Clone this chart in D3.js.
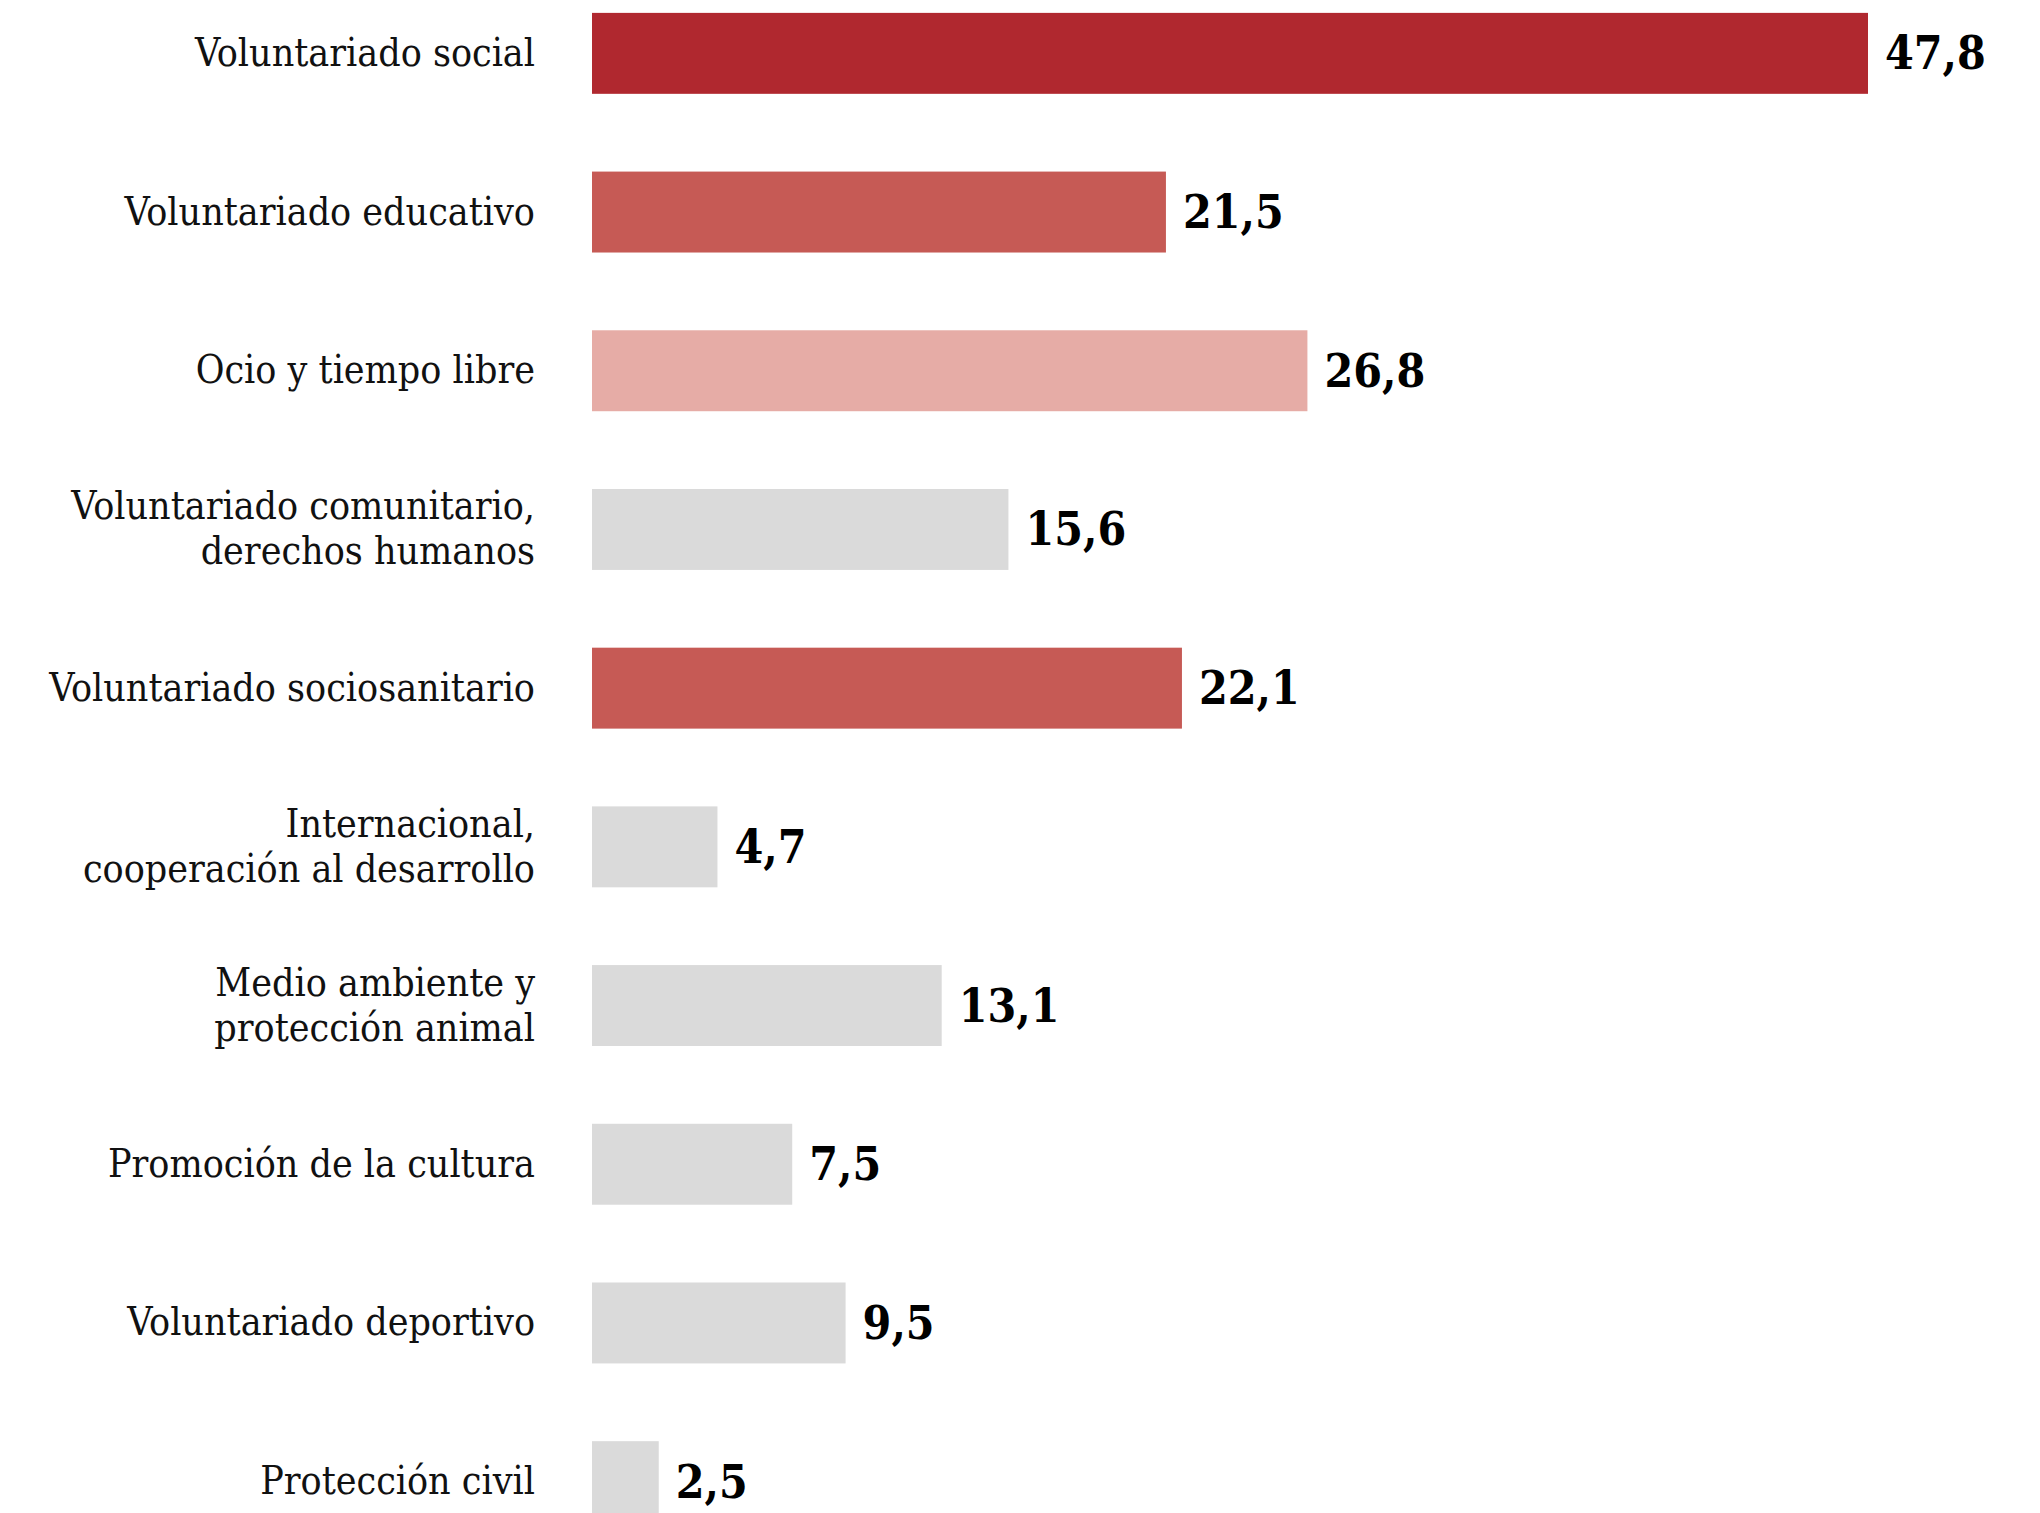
<!DOCTYPE html>
<html><head><meta charset="utf-8">
<script src="https://cdn.jsdelivr.net/npm/d3@7"></script>
<style>
html,body{margin:0;padding:0;background:#fff;}
svg{display:block;}
</style></head>
<body>
<script>
const categories = [
  ["Voluntariado social"],
  ["Voluntariado educativo"],
  ["Ocio y tiempo libre"],
  ["Voluntariado comunitario,", "derechos humanos"],
  ["Voluntariado sociosanitario"],
  ["Internacional,", "cooperación al desarrollo"],
  ["Medio ambiente y", "protección animal"],
  ["Promoción de la cultura"],
  ["Voluntariado deportivo"],
  ["Protección civil"]
];
const values = [47.8, 21.5, 26.8, 15.6, 22.1, 4.7, 13.1, 7.5, 9.5, 2.5];
const valueLabels = ["47,8", "21,5", "26,8", "15,6", "22,1", "4,7", "13,1", "7,5", "9,5", "2,5"];
const highlight = ["strong", "mid", "light", "none", "mid", "none", "none", "none", "none", "none"];

const W = 2040, H = 1513;
const colors = {strong: "#b0282f", mid: "#c65a55", light: "#e6aca6", none: "#dadada"};

const svg = d3.select("body").append("svg").attr("width", W).attr("height", H);

const ids = categories.map((c, i) => i);
const y = d3.scaleBand().domain(ids).range([-26, 1561]).paddingInner(0.49).paddingOuter(0.245);
const x = d3.scaleLinear().domain([0, 47.8]).range([592, 1868]);

svg.append("g").selectAll("rect").data(ids).join("rect")
  .attr("x", x(0))
  .attr("y", i => y(i))
  .attr("width", i => x(values[i]) - x(0))
  .attr("height", y.bandwidth())
  .attr("fill", i => colors[highlight[i]]);

const labelFont = "'Roboto Slab', 'DejaVu Serif Condensed', 'DejaVu Serif', serif";
const lh = 45;
const lg = svg.append("g");
ids.forEach(i => {
  const lines = categories[i];
  const cy = y(i) + y.bandwidth() / 2;
  const t = lg.append("text")
    .attr("text-anchor", "end")
    .attr("font-family", labelFont)
    .attr("font-stretch", "condensed")
    .attr("font-size", 39)
    .attr("fill", "#111");
  lines.forEach((ln, k) => {
    t.append("tspan")
      .attr("x", 535)
      .attr("y", cy - 1 + (k - (lines.length - 1) / 2) * lh)
      .attr("dominant-baseline", "central")
      .text(ln);
  });
});

svg.append("g").selectAll("text").data(ids).join("text")
  .attr("x", i => x(values[i]) + 17)
  .attr("y", i => y(i) + y.bandwidth() / 2)
  .attr("dominant-baseline", "central")
  .attr("font-family", labelFont)
  .attr("font-stretch", "condensed")
  .attr("font-weight", "bold")
  .attr("font-size", 46)
  .attr("fill", "#000")
  .text(i => valueLabels[i]);
</script>
</body></html>
